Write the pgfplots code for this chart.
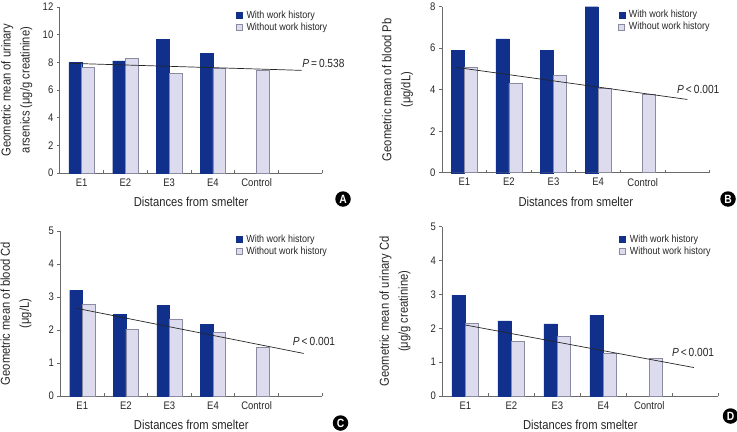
\documentclass[border=0pt]{standalone}
\usepackage{pgfplots}
\pgfplotsset{compat=1.18}
\usepackage{fontspec}
\setmainfont{Liberation Sans}[FakeStretch=0.865]
\definecolor{dkblue}{HTML}{10308C}
\definecolor{ltbar}{HTML}{DCDCEE}
\definecolor{ltedge}{HTML}{8A8AA0}
\definecolor{axgray}{HTML}{6A6A6A}
\tikzset{
  ptext/.style={anchor=west, inner sep=0pt, font=\fontsize{11.8}{13}\selectfont, text=black!85},
  badge/.style={circle, fill=black, text=white, inner sep=0pt, minimum size=15.5bp, font=\bfseries\fontsize{12}{12}\selectfont},
}
\pgfplotsset{
  panel/.style={
    scale only axis,
    anchor=south west,
    clip=false,
    axis lines=left,
    axis line style={-, draw=axgray, line width=0.7bp},
    xmin=0.5, xmax=6.5, ymin=0,
    xtick={1.5,2.5,...,6.5},
    xticklabels={},
    extra x ticks={1,2,3,4,5},
    extra x tick labels={E1,E2,E3,E4,Control},
    extra x tick style={major tick length=0pt},
    xtick align=inside,
    ytick align=outside,
    major tick length=3bp,
    tick style={draw=axgray, line width=0.7bp},
    /pgf/number format/assume math mode=true,
    ticklabel style={font=\fontsize{11}{12}\selectfont, text=black!85},
    xticklabel style={yshift=-2bp},
    xlabel={Distances from smelter},
    xlabel style={at={(axis description cs:0.5,0)}, anchor=center, yshift=-29bp, font=\fontsize{13}{15}\selectfont, text=black!85},
    ylabel style={anchor=center, align=center, font=\fontsize{13}{19}\selectfont, text=black!85},
    legend image code/.code={\draw[#1] (0bp,-3bp) rectangle (6bp,3bp);},
    legend style={anchor=north west, draw=none, fill=none, inner sep=0pt, outer sep=0pt,
      font=\fontsize{10.4}{12}\selectfont, column sep=3bp, row sep=0.5bp,
      nodes={inner sep=1bp, text height=7.5bp, text depth=2bp, text=black!85},
      cells={anchor=west}},
  },
  withbar/.style={ybar, bar width=0.29, bar shift=-0.145, fill=dkblue, draw=dkblue, line width=0.3bp},
  woutbar/.style={ybar, bar width=0.29, bar shift=0.145, fill=ltbar, draw=ltedge, line width=0.6bp},
  trend/.style={sharp plot, no marks, black!85, line width=0.7bp, forget plot},
}
\begin{document}
\begin{tikzpicture}
\useasboundingbox (0,0) rectangle (737bp,-432bp);

% ---------------- Panel A ----------------
\begin{axis}[panel,
  at={(59.8bp,-173bp)}, width=262.5bp, height=166bp,
  ymax=12, ytick={0,2,...,12},
  ylabel={Geometric mean of urinary\\arsenics (μg/g creatinine)},
  ylabel style={at={(axis description cs:-0.164,0.5)}},
  legend style={at={(axis description cs:0.671,0.984)}},
]
\addplot[withbar] coordinates {(1,8.0) (2,8.1) (3,9.65) (4,8.65)};
\addlegendentry{With work history}
\addplot[woutbar] coordinates {(1,7.65) (2,8.3) (3,7.2) (4,7.55) (5,7.45)};
\addlegendentry{Without work history}
\addplot[trend] coordinates {(0.73,7.93) (6.03,7.42)};
\node[ptext] at (axis cs:6.04,7.95) {\textit{P}\,=\,0.538};
\end{axis}

% ---------------- Panel B ----------------
\begin{axis}[panel,
  at={(442bp,-172.7bp)}, width=267.6bp, height=166bp,
  ymax=8, ytick={0,2,...,8},
  ylabel={Geometric mean of blood Pb\\(μg/dL)},
  ylabel style={at={(axis description cs:-0.166,0.5)}},
  legend style={at={(axis description cs:0.659,0.984)}},
]
\addplot[withbar] coordinates {(1,5.9) (2,6.45) (3,5.9) (4,8.0)};
\addlegendentry{With work history}
\addplot[woutbar] coordinates {(1,5.1) (2,4.3) (3,4.7) (4,4.05) (5,3.8)};
\addlegendentry{Without work history}
\addplot[trend] coordinates {(0.81,5.08) (6.0,3.53)};
\node[ptext] at (axis cs:5.77,4.03) {\textit{P}\,<\,0.001};
\end{axis}

% ---------------- Panel C ----------------
\begin{axis}[panel,
  at={(60.5bp,-396bp)}, width=261.5bp, height=165bp,
  ymax=5, ytick={0,1,...,5},
  ylabel={Geometric mean of blood Cd\\(μg/L)},
  ylabel style={at={(axis description cs:-0.170,0.5)}},
  legend style={at={(axis description cs:0.670,0.984)}},
]
\addplot[withbar] coordinates {(1,3.2) (2,2.48) (3,2.75) (4,2.17)};
\addlegendentry{With work history}
\addplot[woutbar] coordinates {(1,2.77) (2,2.03) (3,2.33) (4,1.93) (5,1.47)};
\addlegendentry{Without work history}
\addplot[trend] coordinates {(0.86,2.66) (6.08,1.29)};
\node[ptext] at (axis cs:5.83,1.64) {\textit{P}\,<\,0.001};
\end{axis}

% ---------------- Panel D ----------------
\begin{axis}[panel,
  at={(442.3bp,-396bp)}, width=276bp, height=169.3bp,
  ymax=5, ytick={0,1,...,5},
  ylabel={Geometric mean of urinary Cd\\(μg/g creatinine)},
  ylabel style={at={(axis description cs:-0.171,0.5)}},
  legend style={at={(axis description cs:0.641,0.959)}},
]
\addplot[withbar] coordinates {(1,2.98) (2,2.22) (3,2.13) (4,2.38)};
\addlegendentry{With work history}
\addplot[woutbar] coordinates {(1,2.15) (2,1.62) (3,1.77) (4,1.27) (5,1.12)};
\addlegendentry{Without work history}
\addplot[trend] coordinates {(0.99,2.10) (5.97,0.84)};
\node[ptext] at (axis cs:5.49,1.30) {\textit{P}\,<\,0.001};
\end{axis}

\node[badge] at (343bp,-199bp) {A};
\node[badge] at (728bp,-199bp) {B};
\node[badge] at (340.5bp,-423bp) {C};
\node[badge] at (730.5bp,-416bp) {D};
\end{tikzpicture}
\end{document}
